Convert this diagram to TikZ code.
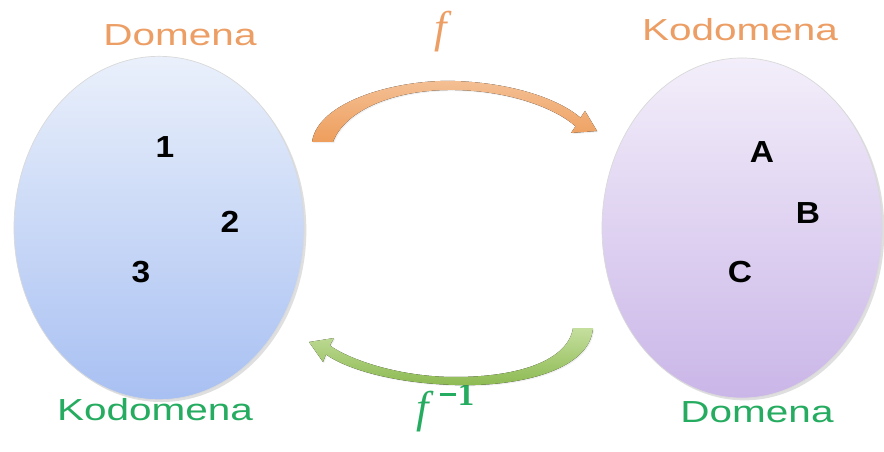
\documentclass[tikz,border=0pt]{standalone}
\usepackage{fontspec}
\setmainfont{Liberation Sans}
\newfontfamily\lblfont[FakeStretch=1.33]{Liberation Sans}
\newfontfamily\elfont[FakeStretch=1.1]{Liberation Sans Bold}
\newfontfamily\fnfont{Liberation Serif}
\usetikzlibrary{shapes.geometric,shadows}
\definecolor{orangeT}{RGB}{236,158,100}
\definecolor{greenT}{RGB}{38,172,96}
\definecolor{orangeA}{RGB}{238,158,92}
\definecolor{greenA}{RGB}{165,205,105}
\definecolor{greenD}{RGB}{140,185,80}
\definecolor{blueTop}{RGB}{234,240,251}
\definecolor{blueBot}{RGB}{168,192,242}
\definecolor{violTop}{RGB}{243,238,250}
\definecolor{violBot}{RGB}{202,182,232}
\tikzset{
  lbl/.style={font=\lblfont\fontsize{26}{30}\selectfont, inner sep=0pt},
  elem/.style={font=\elfont\fontsize{26}{30}\selectfont, text=black, inner sep=0pt},
  fn/.style={font=\fnfont\fontsize{38}{44}\selectfont, inner sep=0pt},
  setel/.style={ellipse, draw=white!85!black, line width=0.6pt, inner sep=0pt,
     drop shadow={opacity=0.25, shadow xshift=2pt, shadow yshift=-2pt}},
}
\begin{document}
\begin{tikzpicture}[x=0.03cm, y=-0.03cm]
\useasboundingbox (0,0) rectangle (884,452);
\fill[white] (0,0) rectangle (884,452);
% sets
\node[setel, top color=blueTop, bottom color=blueBot, minimum width=8.7cm, minimum height=10.3cm] (dom) at (159,228) {};
\node[setel, top color=violTop, bottom color=violBot, minimum width=8.4cm, minimum height=10.2cm] (kod) at (742,228) {};
% elements
\node[elem] (e1) at (165,147) {1};
\node[elem] (e2) at (230,222) {2};
\node[elem] (e3) at (141,272) {3};
\node[elem] (eA) at (762,152) {A};
\node[elem] (eB) at (808,213) {B};
\node[elem] (eC) at (740,272) {C};
% labels
\node[lbl, text=orangeT] (ldom) at (180,35) {Domena};
\node[lbl, text=orangeT] (lkod) at (740,30) {Kodomena};
\node[lbl, text=greenT] (lkod2) at (155,410) {Kodomena};
\node[lbl, text=greenT] (ldom2) at (757,412) {Domena};
\node[fn, text=orangeT] (f) at (441,32) {\itshape f};
\node[fn, text=greenT, anchor=west] (finv) at (416,408) {{\itshape f}\kern10pt\raisebox{0.4em}{\fontsize{28}{32}\selectfont\bfseries\rule[0.27em]{13pt}{2.6pt}\kern2pt 1}};
% top arrow (orange)
\fill[top color=orangeA!65!white, bottom color=orangeA, drop shadow={opacity=0.12, shadow xshift=1pt, shadow yshift=-1pt}]
  (312,142) .. controls (318,100) and (400,79) .. (455,81)
  .. controls (515,83) and (560,100) .. (580.5,117.7)
  -- (585,111) -- (597,131) -- (571,133) -- (575.5,126.3)
  .. controls (555,108) and (510,91) .. (455,90)
  .. controls (395,89) and (345,110) .. (333,142) -- cycle;
% bottom arrow (green)
\fill[top color=greenA!65!white, bottom color=greenD, drop shadow={opacity=0.12, shadow xshift=1pt, shadow yshift=-1pt}]
  (593,328) .. controls (590,370) and (520,387) .. (455,385)
  .. controls (390,383) and (345,368) .. (326,354.5)
  -- (323,362) -- (309,342) -- (334,338) -- (330,345.5)
  .. controls (350,360) and (400,377) .. (455,377)
  .. controls (520,377) and (568,360) .. (573,328) -- cycle;
\end{tikzpicture}
\end{document}
